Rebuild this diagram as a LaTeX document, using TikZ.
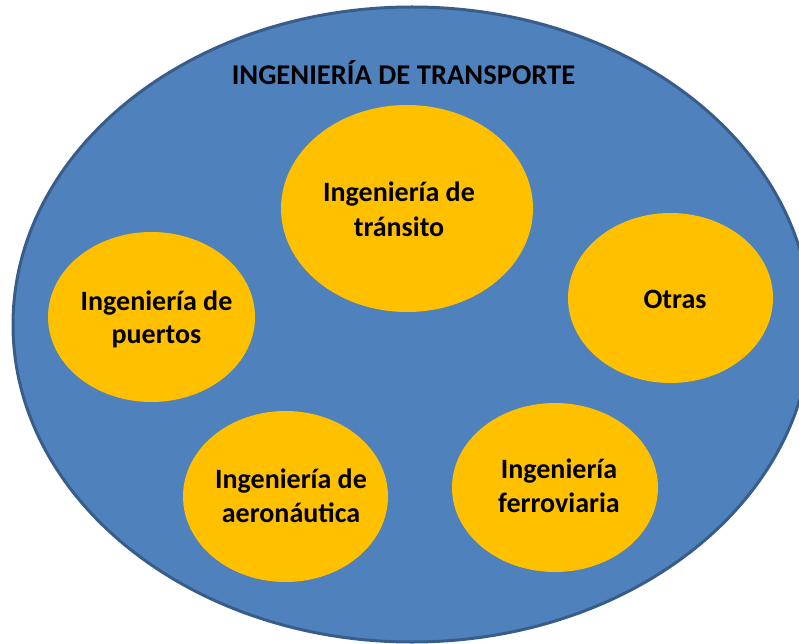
\documentclass[tikz,border=0pt]{standalone}
\usepackage{fontspec}
\setmainfont{Carlito}
\usetikzlibrary{shapes.geometric}
\definecolor{bigblue}{HTML}{4F81BD}
\definecolor{bigedge}{HTML}{385D8A}
\definecolor{gold}{HTML}{FFC000}
\tikzset{
  outer/.style={ellipse, fill=bigblue, draw=bigedge, line width=3pt, inner sep=0pt},
  bubble/.style={ellipse, fill=gold, draw=none, inner sep=0pt},
  lbl/.style={anchor=base, inner sep=0pt, font=\fontsize{28}{34}\selectfont\bfseries, text=black}
}
\begin{document}
\begin{tikzpicture}[x=1pt,y=-1pt]
\useasboundingbox (0,0) rectangle (799,644);
\clip (0,0) rectangle (799,644);
\node[outer, minimum width=798pt, minimum height=635pt] (transporte) at (412,324.5) {};
\node[lbl, font=\fontsize{28.6}{34}\selectfont\bfseries] (titulo) at (403.5,85) {INGENIERÍA DE TRANSPORTE};

\node[bubble, minimum width=252pt, minimum height=207pt] (transito) at (407,208.5) {};
\node[lbl] (transitoA) at (399,202) {Ingeniería de};
\node[lbl] (transitoB) at (399,236) {tránsito};

\node[bubble, minimum width=207pt, minimum height=170pt] (puertos) at (151.5,317) {};
\node[lbl] (puertosA) at (156.5,310) {Ingeniería de};
\node[lbl] (puertosB) at (156.5,343) {puertos};

\node[bubble, minimum width=205pt, minimum height=170pt] (otras) at (670.5,298) {};
\node[lbl] (otrasA) at (675,308) {Otras};

\node[bubble, minimum width=205pt, minimum height=171pt] (aero) at (285.5,496.5) {};
\node[lbl] (aeroA) at (291,488) {Ingeniería de};
\node[lbl] (aeroB) at (291,522) {aeronáutica};

\node[bubble, minimum width=206pt, minimum height=169pt] (ferro) at (555,487.5) {};
\node[lbl] (ferroA) at (559,478) {Ingeniería};
\node[lbl] (ferroB) at (559,512) {ferroviaria};
\end{tikzpicture}
\end{document}
